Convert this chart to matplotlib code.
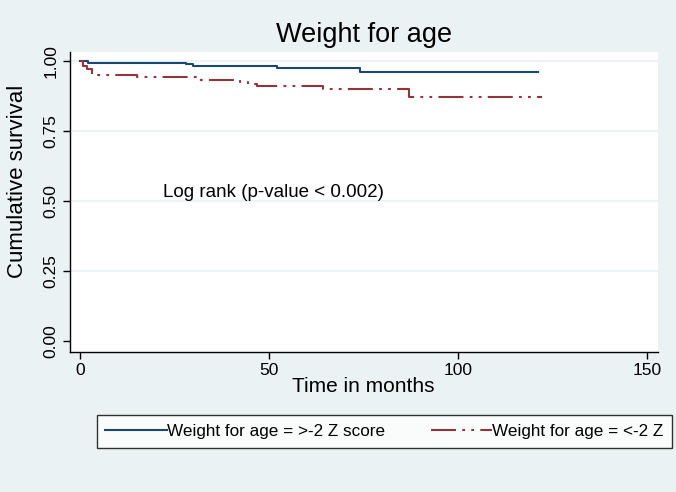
import matplotlib
matplotlib.use('Agg')
from matplotlib import pyplot as plt

plt.rcParams['font.family'] = ['Liberation Sans', 'DejaVu Sans']
plt.rcParams['lines.scale_dashes'] = False

# Kaplan-Meier step estimates
blue_t = [0, 2.2, 28.0, 30.0, 52.0, 74.0, 121.2]
blue_s = [1.0, 0.995, 0.991, 0.985, 0.977, 0.963, 0.963]
red_t = [0, 0.9, 1.8, 3.1, 15.0, 30.9, 42.3, 44.4, 46.7, 64.3, 86.9, 122.1]
red_s = [1.0, 0.985, 0.974, 0.950, 0.944, 0.933, 0.926, 0.918, 0.911, 0.900, 0.874, 0.874]

labels = ['Weight for age = >-2 Z score', 'Weight for age = <-2 Z']
x_ticks = [0, 50, 100, 150]
y_ticks = [0.0, 0.25, 0.5, 0.75, 1.0]

bg = '#EAF2F3'
blue = '#1A476F'
red = '#90353B'

W, H = 676, 492
fig = plt.figure(figsize=(W / 100, H / 100), dpi=100, facecolor=bg)
ax = fig.add_axes([69.6 / W, (H - 352.3) / H, (657.7 - 69.6) / W, (352.3 - 51.7) / H])
ax.set_facecolor('white')

for y in y_ticks[1:]:
    ax.axhline(y, color=bg, lw=1.2, zorder=0)

ax.step(blue_t, blue_s, where='post', color=blue, lw=1.5, label=labels[0])
ax.step(red_t, red_s, where='post', color=red, lw=1.5, label=labels[1],
        dashes=(18, 4.5, 2, 4.5, 2, 4.5))

ax.set_xlim(-2.75, 152.8)
ax.set_ylim(-0.039, 1.035)
ax.set_xticks(x_ticks)
ax.set_yticks(y_ticks)
ax.set_yticklabels(['%.2f' % v for v in y_ticks], rotation=90, va='center')
ax.tick_params(axis='both', labelsize=12.5, length=5, width=1, color='black', pad=3)

for s in ['top', 'right']:
    ax.spines[s].set_visible(False)
for s in ['left', 'bottom']:
    ax.spines[s].set_linewidth(1)

ax.set_title('Weight for age', fontsize=19.5, pad=7.2)
ax.set_xlabel('Time in months', fontsize=15, labelpad=-1)
ax.set_ylabel('Cumulative survival', fontsize=16, labelpad=4)
ax.yaxis.set_label_coords(-0.07, 0.57)

ax.text(22.0, 0.531, 'Log rank (p-value < 0.002)', fontsize=13.5, va='center', ha='left')

fig.legend(loc='lower left', bbox_to_anchor=(96.5 / W, (H - 447.5) / H, (672 - 96.5) / W, 34 / H),
           mode='expand', ncol=2, frameon=True, fancybox=False, edgecolor='black',
           facecolor='white', fontsize=12.3, handlelength=3.6, handletextpad=0,
           columnspacing=1.6, borderpad=0.5, borderaxespad=0)

fig.savefig('out.png', dpi=100, facecolor=bg)
